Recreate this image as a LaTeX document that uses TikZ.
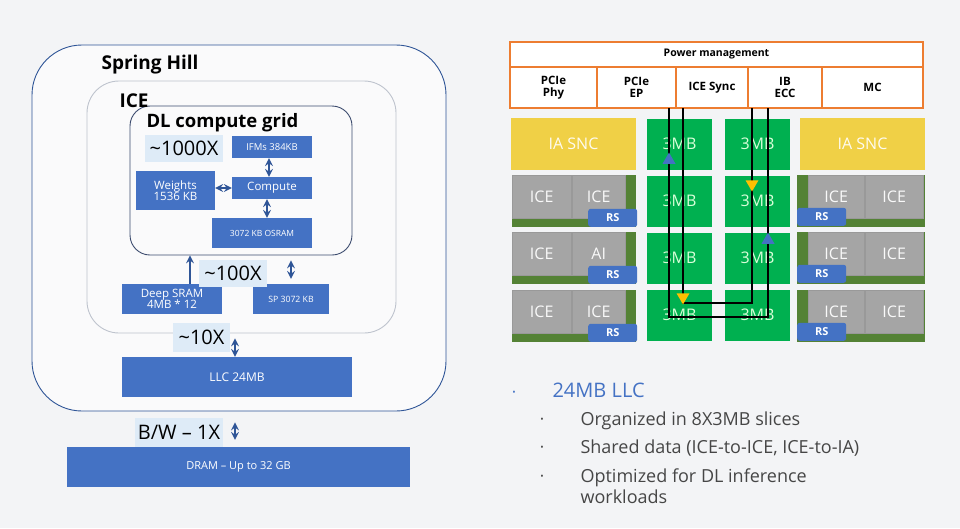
\documentclass[tikz,border=0pt]{standalone}
\usepackage{fontspec}
\setmainfont{Open Sans}
\usetikzlibrary{shapes.geometric,positioning}
\tikzset{>=stealth}
\definecolor{bgColor}{RGB}{243,244,246}
\definecolor{boxBlue}{RGB}{68,114,196}
\definecolor{lblBlue}{RGB}{222,235,247}
\definecolor{arrowBlue}{RGB}{47,85,151}
\definecolor{iceLine}{RGB}{190,195,205}
\definecolor{gridLine}{RGB}{60,75,110}
\definecolor{pmOrange}{RGB}{237,125,49}
\definecolor{snc}{RGB}{240,208,70}
\definecolor{llcGreen}{RGB}{0,176,80}
\definecolor{tileGreen}{RGB}{84,130,53}
\definecolor{tileGray}{RGB}{165,165,165}
\definecolor{triOrange}{RGB}{255,192,0}
\definecolor{txtGray}{RGB}{70,70,70}
\newcommand{\fsz}[1]{\fontsize{#1}{#1}\selectfont}
\tikzset{
  sz/.style 2 args={minimum width=#1pt, minimum height=#2pt},
  blk/.style={fill=boxBlue, text=white, inner sep=0pt, align=center},
  lbl/.style={fill=lblBlue, text=black, inner sep=0pt, font=\fsz{20}},
  dbl/.style={<->, draw=arrowBlue, line width=2.4pt},
  frame/.style={fill=white!55!bgColor, inner sep=0pt},
  title/.style={anchor=base west, font=\bfseries\fsz{19}},
  pmcell/.style={draw=pmOrange, line width=1.3pt, fill=white, inner sep=0pt, align=center, font=\bfseries\fsz{11.5}},
  slice/.style={fill=llcGreen, text=green!15!white, inner sep=0pt, font=\fsz{16}},
  tile/.style={fill=tileGray, draw=gray!80, text=white!95!gray, inner sep=0pt, font=\fsz{16}},
  rs/.style={fill=boxBlue, rounded corners=2.5pt, text=white, inner sep=0pt, minimum width=49pt, minimum height=18pt, font=\bfseries\fsz{11}},
  bus/.style={draw=black, line width=2.2pt},
  tri/.style={regular polygon, regular polygon sides=3, minimum size=15pt, inner sep=0pt},
  bullet/.style={anchor=base west, text=txtGray, font=\fsz{18}}
}
\begin{document}
\begin{tikzpicture}[x=1pt,y=-1pt]
\fill[bgColor] (0,0) rectangle (960,528);
\useasboundingbox (0,0) rectangle (960,528);

%% left: memory hierarchy
\node[frame, draw=arrowBlue, line width=0.9pt, rounded corners=50pt, sz={414}{366}] (spring) at (239,228) {};
\node[frame, draw=iceLine, line width=0.9pt, rounded corners=32pt, sz={309}{252}] (icebox) at (241.5,207) {};
\node[frame, draw=gridLine, line width=0.9pt, rounded corners=20pt, sz={222}{149}] (dlgrid) at (241,180.5) {};
\node[title] (tspring) at (98,69) {Spring Hill};
\node[title] (tice) at (116,107) {ICE};
\node[title, font=\bfseries\fsz{18.5}] (tgrid) at (143,127) {DL compute grid};

\node[lbl, sz={78}{27}] (l1000) at (184,148.5) {\textasciitilde1000X};
\node[blk, sz={80}{22}, font=\fsz{9.5}] (ifms) at (272,147) {IFMs 384KB};
\node[blk, sz={79}{39}, font=\fsz{11.5}] (weights) at (175.5,190.5) {Weights\\[-1pt]1536 KB};
\node[blk, sz={80}{22}, font=\fsz{11.5}] (compute) at (272,188) {Compute};
\node[blk, sz={100}{30}, font=\fsz{8.5}] (osram) at (262,233) {3072 KB OSRAM};
\node[blk, sz={100}{30}, font=\fsz{11.5}] (deep) at (172,299) {Deep SRAM\\[-1pt]4MB * 12};
\node[blk, sz={76}{30}, font=\fsz{8.7}] (sp) at (291,299) {SP 3072 KB};
\node[lbl, sz={68}{27}] (l100) at (233,273.5) {\textasciitilde100X};
\node[lbl, sz={57}{29}] (l10) at (201.5,337.5) {\textasciitilde10X};
\node[blk, sz={230}{40}, font=\fsz{12}] (llc) at (237,377) {LLC 24MB};
\node[lbl, sz={88}{29}] (lbw) at (179,432.5) {B/W -- 1X};
\node[blk, sz={343}{40}, font=\fsz{11}] (dram) at (238.5,467) {DRAM -- Up to 32 GB};

\draw[dbl] ([xshift=-3pt]ifms.south) -- ([xshift=-3pt]compute.north);
\draw[dbl] (compute.west -| weights.east) -- (compute.west);
\draw[dbl] ([xshift=-5pt]compute.south) -- ([xshift=-5pt]compute.south |- osram.north);
\draw[->, draw=arrowBlue, line width=2.4pt] ([xshift=18pt]deep.north) -- ([xshift=18pt]deep.north |- dlgrid.south);
\draw[dbl] ([yshift=-5pt]sp.north |- dlgrid.south) -- ([yshift=5pt]sp.north);
\draw[dbl] ([xshift=-2pt,yshift=-5pt]llc.north |- icebox.south) -- ([xshift=-2pt]llc.north);
\draw[dbl] ([xshift=-3.5pt,yshift=-11pt]dram.north |- spring.south) -- ([xshift=-3.5pt,yshift=7pt]dram.north);

%% right: floor plan
\node[pmcell, sz={413}{25}, font=\bfseries\fsz{10.5}] (pm) at (716.5,54.5) {Power management};
\foreach \cx/\w/\nm/\txt in {553.5/87/phy/{PCIe\\Phy}, 636.5/79/ep/{PCIe\\EP}, 712/72/sync/{ICE Sync}, 785/74/ecc/{IB\\ECC}, 872.5/101/mc/{MC}}
  \node[pmcell, sz={\w}{41}] (\nm) at (\cx,87.5) {\txt};

\node[fill=snc, text=white!92!snc, inner sep=0pt, sz={125}{52}, font=\fsz{16}] (sncL) at (573.5,144) {IA SNC};
\node[fill=snc, text=white!92!snc, inner sep=0pt, sz={125}{52}, font=\fsz{16}] (sncR) at (862.5,144) {IA SNC};
\foreach \yc in {144,201,258,315}{
  \node[slice, sz={65}{51}] (sa\yc) at (679.5,\yc) {3MB};
  \node[slice, sz={65}{51}] (sb\yc) at (757.5,\yc) {3MB};
}
\foreach \yt/\tb in {175/ICE, 232/AI, 290/ICE}{
  % left tile
  \fill[tileGreen] (512,\yt) rectangle (636,\yt+52);
  \node[tile, sz={59}{43}, anchor=north west] (la\yt) at (512,\yt) {ICE};
  \node[tile, sz={53}{43}, anchor=north west] (lb\yt) at (572,\yt) {\tb};
  \node[rs, anchor=south west] (lrs\yt) at (588,\yt+52) {RS};
  % right tile
  \fill[tileGreen] (797,\yt) rectangle (925,\yt+52);
  \node[tile, sz={56}{43}, anchor=north west] (ra\yt) at (808,\yt) {ICE};
  \node[tile, sz={58}{43}, anchor=north west] (rb\yt) at (865,\yt) {ICE};
  \node[rs, anchor=south west] (rrs\yt) at (797,\yt+51) {RS};
}

\coordinate (outL) at (669,108);
\coordinate (outR) at (768,108);
\coordinate (inL) at (683,108);
\coordinate (inR) at (752,108);
\draw[bus] (outL) -- ++(0,209) -| (outR);
\draw[bus] (inL) -- ++(0,195) -| (inR);
\node[tri, fill=boxBlue] (t1) at (669,160) {};
\node[tri, fill=triOrange, shape border rotate=180] (t2) at (752,184) {};
\node[tri, fill=boxBlue] (t3) at (768,240) {};
\node[tri, fill=triOrange, shape border rotate=180] (t4) at (683,297) {};

%% notes
\node[text=boxBlue, font=\fsz{9}] (d0) at (514,393) {•};
\node[anchor=base west, text=boxBlue, font=\fsz{20}] (n0) at (549,397) {24MB LLC};
\foreach \yb/\txt in {425/{Organized in 8X3MB slices}, 453/{Shared data (ICE-to-ICE, ICE-to-IA)}, 482/{Optimized for DL inference}}{
  \node[text=txtGray, font=\fsz{9}] (d\yb) at (542,\yb-5) {•};
  \node[bullet] (n\yb) at (577,\yb) {\txt};
}
\node[bullet] (n503) at (577,503) {workloads};
\end{tikzpicture}
\end{document}
